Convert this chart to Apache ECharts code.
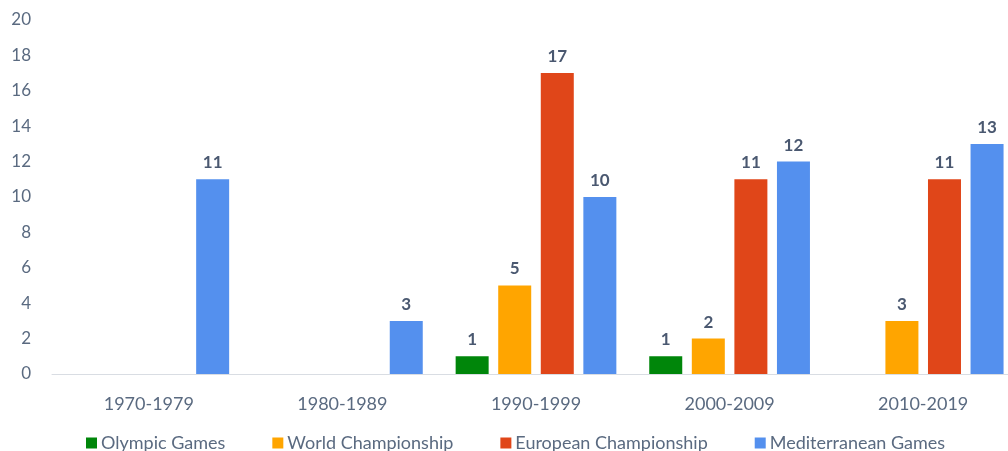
<!DOCTYPE html>
<html><head><meta charset="utf-8">
<script src="https://cdn.jsdelivr.net/npm/echarts@6/dist/echarts.min.js"></script>
<style>html,body{margin:0;padding:0;background:#fff}#c{width:1008px;height:451px}</style>
</head><body><div id="c"></div>
<script>
const categories = ["1970-1979","1980-1989","1990-1999","2000-2009","2010-2019"];
const olympic = [null, null, 1, 1, null];
const world = [null, null, 5, 2, 3];
const european = [null, null, 17, 11, 11];
const mediterranean = [11, 3, 10, 12, 13];
const seriesNames = ["Olympic Games","World Championship","European Championship","Mediterranean Games"];
const colors = ["#00860A","#FFA500","#E04619","#5490EE"];
const font = "Lato, 'Open Sans', sans-serif";
const txt = "#5A6A80";
const mk = (name, data, color) => ({
  name, type: 'bar', data, barWidth: 33, barGap: '29%',
  itemStyle: { color },
  label: { show: true, position: 'top', distance: 8, fontFamily: font, fontSize: 17, fontWeight: 'bold', color: '#4A5870' }
});
const chart = echarts.init(document.getElementById('c'));
chart.setOption({
  animation: false,
  color: colors,
  grid: { left: 52, width: 968, top: 20, bottom: 77, containLabel: false, outerBoundsMode: 'none' },
  legend: {
    top: 429, left: 81, itemWidth: 11, itemHeight: 11, itemGap: 47, icon: 'rect',
    textStyle: { fontFamily: font, fontSize: 18, color: txt, padding: [0,0,0,-1] },
    data: seriesNames
  },
  xAxis: {
    type: 'category', data: categories,
    axisLine: { lineStyle: { color: '#D9DDE3' } },
    axisTick: { show: false },
    axisLabel: { fontFamily: font, fontSize: 18, color: txt, margin: 21 }
  },
  yAxis: {
    type: 'value', min: 0, max: 20, interval: 2,
    splitLine: { show: false },
    axisLine: { show: false }, axisTick: { show: false },
    axisLabel: { fontFamily: font, fontSize: 17, color: txt, margin: 21 }
  },
  series: [
    mk(seriesNames[0], olympic, colors[0]),
    mk(seriesNames[1], world, colors[1]),
    mk(seriesNames[2], european, colors[2]),
    mk(seriesNames[3], mediterranean, colors[3])
  ]
});
</script></body></html>
